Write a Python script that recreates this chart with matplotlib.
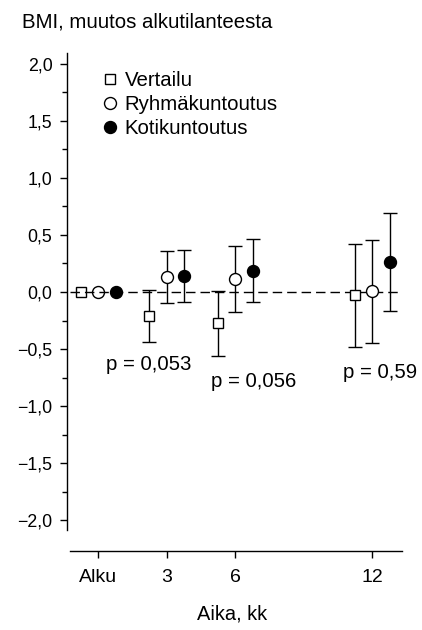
import matplotlib
matplotlib.use("Agg")
import matplotlib.pyplot as plt
from matplotlib.ticker import FixedLocator, FuncFormatter
from matplotlib.lines import Line2D

plt.rcParams['font.family'] = ['Liberation Sans', 'DejaVu Sans']

# ---- data ----
months = [0, 3, 6, 12]
xtick_labels = ["Alku", "3", "6", "12"]
groups = ["Vertailu", "Ryhmäkuntoutus", "Kotikuntoutus"]
vertailu_mean = [0.0, -0.21, -0.275, -0.03]
vertailu_err = [0.0, 0.225, 0.285, 0.45]
ryhma_mean = [0.0, 0.134, 0.114, 0.005]
ryhma_err = [0.0, 0.23, 0.29, 0.45]
koti_mean = [0.0, 0.14, 0.186, 0.266]
koti_err = [0.0, 0.225, 0.275, 0.43]
p_labels = ["p = 0,053", "p = 0,056", "p = 0,59"]
p_x = [2.2, 6.8, 12.32]
p_y = [-0.684, -0.836, -0.757]
ymajor = [-2.0, -1.5, -1.0, -0.5, 0.0, 0.5, 1.0, 1.5, 2.0]
yminor = [-1.75, -1.25, -0.75, -0.25, 0.25, 0.75, 1.25, 1.75]

offsets = [-0.76, 0.0, 0.76]
styles = [
    dict(marker='s', ms=7.8, mfc='white', mec='black'),
    dict(marker='o', ms=8.6, mfc='white', mec='black'),
    dict(marker='o', ms=8.6, mfc='black', mec='black'),
]
means = [vertailu_mean, ryhma_mean, koti_mean]
errs = [vertailu_err, ryhma_err, koti_err]

fig = plt.figure(figsize=(4.22, 6.30), dpi=100)
ax = fig.add_axes([67/422, 1 - 550.8/630, (404-67)/422, (550.8-50.3)/630])
ax.set_xlim(-1.371, 13.39)
ax.set_ylim(-2.27, 2.12)

# zero reference line
ax.plot([-1.24, 13.21], [0, 0], color='black', lw=1.0, dashes=(6.8, 3.6), zorder=1)

for k in range(3):
    xs = [m + offsets[k] for m in months]
    ax.errorbar(xs[1:], means[k][1:], yerr=errs[k][1:], fmt='none', ecolor='black',
                elinewidth=1.0, capsize=5, capthick=1.0, zorder=2)
    st = dict(styles[k])
    ax.plot(xs[1:], means[k][1:], linestyle='none', mew=1.0, zorder=3, **st)
    st0 = dict(st)
    if st0['mfc'] == 'white':
        st0['mfc'] = 'none'
    ax.plot(xs[:1], means[k][:1], linestyle='none', mew=1.0, zorder=3, **st0)

for t, x, y in zip(p_labels, p_x, p_y):
    ax.text(x, y, t, ha='center', va='baseline', fontsize=14.7)

# axes styling
for s in ['top', 'right']:
    ax.spines[s].set_visible(False)
ax.spines['left'].set_bounds(-2.09, 2.1)
ax.spines['bottom'].set_bounds(-1.24, 13.30)
ax.spines['left'].set_linewidth(1.0)
ax.spines['bottom'].set_linewidth(1.0)

ax.yaxis.set_major_locator(FixedLocator(ymajor))
ax.yaxis.set_minor_locator(FixedLocator(yminor))
ax.yaxis.set_major_formatter(FuncFormatter(lambda v, p: f"{v:.1f}".replace('.', ',').replace('-', '\u2212')))
ax.tick_params(axis='y', which='major', length=5, width=1.0, labelsize=12.8, pad=5.5)
ax.tick_params(axis='y', which='minor', length=3.6, width=1.0)

ax.set_xticks(months)
ax.set_xticklabels(xtick_labels)
ax.tick_params(axis='x', which='major', length=5, width=1.0, labelsize=14, pad=8)

# legend
handles = [Line2D([], [], linestyle='none', mew=1.0, **styles[k]) for k in range(3)]
leg = ax.legend(handles, groups, loc='upper left', bbox_to_anchor=((102-67)/337, (550.8-71)/500.5),
                frameon=False, fontsize=14.7, handlelength=0.8, handletextpad=0.3,
                labelspacing=0.25, borderpad=0, borderaxespad=0)

fig.text(22/422, 1 - 27/630, "BMI, muutos alkutilanteesta", ha='left', va='baseline', fontsize=14.7)
fig.text(232/422, 1 - 620/630, "Aika, kk", ha='center', va='baseline', fontsize=14.4)

fig.savefig("out.png", dpi=100)
